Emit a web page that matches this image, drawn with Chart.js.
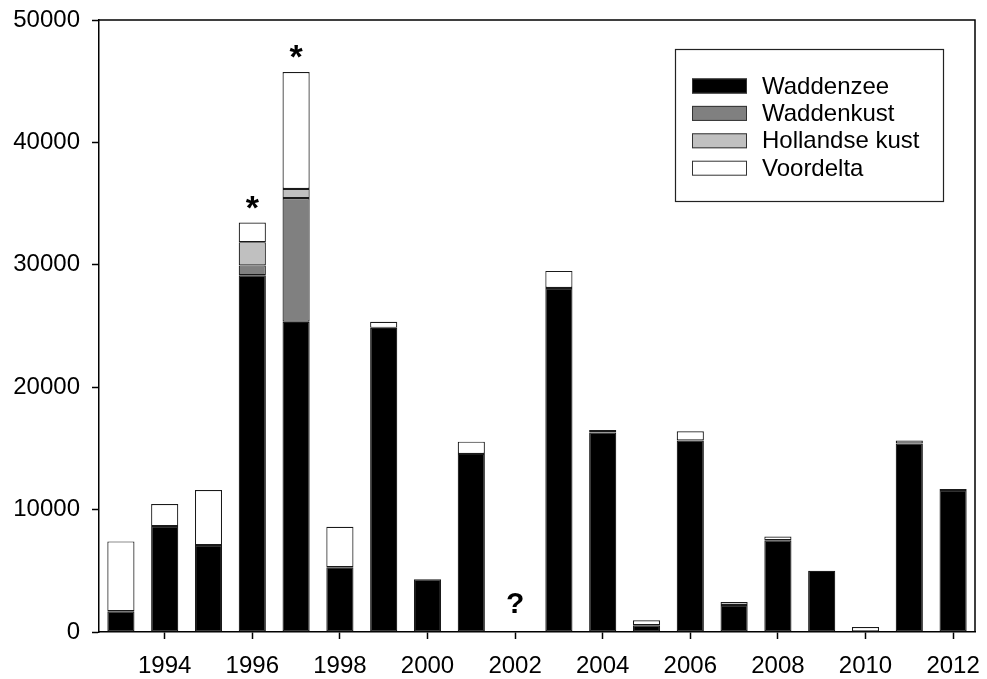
<!DOCTYPE html>
<html>
<head>
<meta charset="utf-8">
<script src="https://cdn.jsdelivr.net/npm/chart.js@4"></script>
<style>
  html, body { margin: 0; padding: 0; background: #fff; }
  #chart { display: block; }
</style>
</head>
<body>
<canvas id="chart" width="987" height="679"></canvas>
<script>
const years = [1993, 1994, 1995, 1996, 1997, 1998, 1999, 2000, 2001, 2002,
  2003, 2004, 2005, 2006, 2007, 2008, 2009, 2010, 2011, 2012];
const waddenzee = [1700, 8650, 7100, 29150, 25350, 5300, 24850, 4300, 14550, 0,
  28100, 16300, 550, 15650, 2200, 7500, 5000, 0, 15400, 11600];
const waddenkust = [0, 0, 0, 800, 10100, 0, 0, 0, 0, 0,
  0, 0, 0, 0, 0, 0, 0, 0, 0, 0];
const hollandseKust = [0, 0, 0, 1900, 750, 0, 0, 0, 0, 0,
  0, 0, 0, 0, 0, 0, 0, 0, 0, 0];
const voordelta = [5700, 1800, 4500, 1600, 9550, 3300, 500, 0, 1000, 0,
  1400, 200, 400, 750, 250, 300, 0, 400, 250, 80];
const yTicks = [0, 10000, 20000, 30000, 40000, 50000];
const noteYears = [1996, 1997, 2002];
const noteMarks = ["*", "*", "?"];

const FONT = "'Liberation Sans', Arial, Helvetica, sans-serif";
const nz = (arr) => arr.map((v) => (v > 0 ? v : null));

const series = [
  { label: "Waddenzee", data: waddenzee, color: "#000000" },
  { label: "Waddenkust", data: waddenkust, color: "#808080" },
  { label: "Hollandse kust", data: hollandseKust, color: "#c0c0c0" },
  { label: "Voordelta", data: voordelta, color: "#ffffff" }
];

// top/right frame lines, the boxed legend and the * / ? notes
const extras = {
  id: "extras",
  afterDraw(chart) {
    const { ctx, chartArea: a, scales } = chart;
    ctx.save();
    ctx.strokeStyle = "#000";
    ctx.lineWidth = 1.5;
    ctx.beginPath();
    ctx.moveTo(a.left, a.top);
    ctx.lineTo(a.right, a.top);
    ctx.lineTo(a.right, a.bottom);
    ctx.stroke();

    // legend
    const lx = a.right - 300, ly = a.top + 29, lw = 268, lh = 152;
    ctx.lineWidth = 1.2;
    ctx.strokeStyle = "#222";
    ctx.strokeRect(lx + 0.5, ly + 0.5, lw, lh);
    ctx.font = "24px " + FONT;
    ctx.textBaseline = "middle";
    ctx.textAlign = "left";
    series.forEach((s, i) => {
      const cy = ly + 37 + i * 27.4;
      ctx.fillStyle = s.color;
      ctx.fillRect(lx + 17, cy - 7.5, 55, 15);
      ctx.strokeStyle = "#333";
      ctx.lineWidth = 1;
      ctx.strokeRect(lx + 17.5, cy - 7, 54, 14);
      ctx.fillStyle = "#000";
      ctx.fillText(s.label, lx + 87, cy + 1);
    });

    // notes above bars
    ctx.textAlign = "center";
    ctx.textBaseline = "alphabetic";
    noteYears.forEach((yr, k) => {
      const i = years.indexOf(yr);
      const total = waddenzee[i] + waddenkust[i] + hollandseKust[i] + voordelta[i];
      const x = scales.x.getPixelForValue(i);
      if (noteMarks[k] === "*") {
        ctx.font = "bold 34px " + FONT;
        ctx.fillText("*", x, scales.y.getPixelForValue(total) - 4);
      } else {
        ctx.font = "bold 30px " + FONT;
        ctx.fillText(noteMarks[k], x, scales.y.getPixelForValue(total) - 19);
      }
    });
    ctx.restore();
  }
};

new Chart(document.getElementById("chart"), {
  type: "bar",
  data: {
    labels: years.map(String),
    datasets: series.map((s) => ({
      label: s.label,
      data: nz(s.data),
      backgroundColor: s.color,
      borderColor: "#1a1a1a",
      borderWidth: 1.2,
      borderSkipped: false,
      barPercentage: 0.62,
      categoryPercentage: 1
    }))
  },
  options: {
    responsive: false,
    animation: false,
    devicePixelRatio: 1,
    layout: { padding: { top: 20, right: 12, bottom: 0, left: 0 } },
    plugins: { legend: { display: false }, tooltip: { enabled: false } },
    scales: {
      x: {
        stacked: true,
        offset: true,
        grid: {
          offset: false,
          drawOnChartArea: false,
          drawTicks: true,
          tickLength: 7,
          tickWidth: 1.5,
          tickColor: (c) => (years[c.index] % 2 === 0 ? "#000" : "rgba(0,0,0,0)")
        },
        border: { display: true, color: "#000", width: 1.5 },
        ticks: {
          autoSkip: false,
          maxRotation: 0,
          padding: 13,
          color: "#000",
          font: { family: FONT, size: 24 },
          callback: (v, i) => (years[i] % 2 === 0 ? String(years[i]) : "")
        },
        afterFit: (s) => { s.height = 47; s.paddingLeft = 0; s.paddingRight = 0; }
      },
      y: {
        stacked: true,
        min: 0,
        max: 50000,
        afterBuildTicks: (s) => { s.ticks = yTicks.map((v) => ({ value: v })); },
        grid: {
          drawOnChartArea: false,
          drawTicks: true,
          tickLength: 7,
          tickWidth: 1.5,
          tickColor: "#000"
        },
        border: { display: true, color: "#000", width: 1.5 },
        ticks: {
          padding: 12,
          color: "#000",
          font: { family: FONT, size: 24 },
          callback: (v) => String(v)
        },
        afterFit: (s) => { s.width = 99; s.paddingTop = 0; s.paddingBottom = 0; }
      }
    }
  },
  plugins: [extras]
});
</script>
</body>
</html>
